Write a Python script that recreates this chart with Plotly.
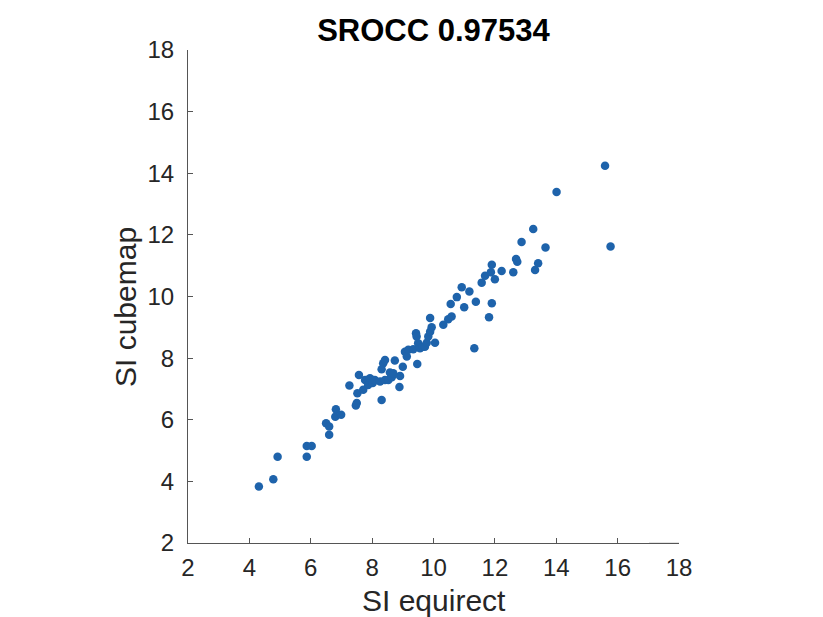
import plotly.graph_objects as go

si_equirect = [4.31, 4.78, 4.92, 5.87, 5.87, 6.03, 6.50, 6.60, 6.60, 6.80, 6.82, 6.99,
               7.26, 7.47, 7.50, 7.52, 7.57, 7.71, 7.77, 7.87, 7.93, 8.02, 8.09, 8.26,
               8.31, 8.36, 8.42, 8.31, 8.42, 8.53, 8.58, 8.64, 8.69, 8.74, 8.89, 8.91,
               9.00, 9.07, 9.13, 9.18, 9.34, 9.43, 9.45, 9.47, 9.50, 9.56, 9.65, 9.72,
               9.78, 9.83, 9.89, 9.94, 10.05, 9.89, 10.32, 10.48, 10.59, 10.56, 10.76,
               10.92, 11.00, 11.17, 11.33, 11.38, 11.57, 11.68, 11.81, 11.90, 11.90,
               11.87, 12.00, 12.22, 12.60, 12.69, 12.73, 12.87, 13.25, 13.31, 13.41,
               13.65, 14.01, 15.59, 15.77]
si_cubemap = [3.83, 4.07, 4.80, 4.80, 5.15, 5.15, 5.89, 5.78, 5.51, 6.10, 6.34, 6.16,
              7.11, 6.46, 6.54, 6.86, 7.45, 6.97, 7.29, 7.13, 7.35, 7.19, 7.29, 7.24,
              6.64, 7.83, 7.94, 7.64, 7.29, 7.29, 7.53, 7.38, 7.51, 7.92, 7.06, 7.42,
              7.72, 8.21, 8.05, 8.27, 8.29, 8.81, 8.70, 7.81, 8.48, 8.32, 8.37, 8.37,
              8.50, 8.70, 8.86, 9.00, 8.50, 9.30, 9.08, 9.26, 9.35, 9.76, 9.98,
              10.30, 9.65, 10.16, 8.32, 9.83, 10.45, 10.67, 9.33, 9.78, 11.03,
              10.79, 10.56, 10.83, 10.79, 11.22, 11.13, 11.77, 12.19, 10.86, 11.08,
              11.59, 13.39, 14.24, 11.62]

tick_vals = [2, 4, 6, 8, 10, 12, 14, 16, 18]
tick_text = [str(v) for v in tick_vals]
title_text = "SROCC 0.97534"
x_label = "SI equirect"
y_label = "SI cubemap"

W, H = 823, 617
L, R, T, B = 188, 144, 50, 74
plot_h = H - T - B
plot_w = W - L - R
FONT = "Liberation Sans, Arial, sans-serif"

fig = go.Figure()
fig.add_trace(go.Scatter(
    x=si_equirect, y=si_cubemap, mode="markers",
    marker=dict(size=8.5, color="#1e63ab", line=dict(width=0)),
    showlegend=False, hoverinfo="x+y"))

axis_common = dict(
    range=[2, 18], tickmode="array", tickvals=tick_vals, ticktext=tick_text,
    showgrid=False, zeroline=False, showline=True, linecolor="#555555", linewidth=1,
    ticks="inside", ticklen=5, tickcolor="#555555", tickwidth=1,
    tickfont=dict(family=FONT, size=24, color="#262626"),
    mirror=False,
)

fig.update_layout(
    width=W, height=H,
    margin=dict(l=L, r=R, t=T, b=B, pad=0),
    paper_bgcolor="white", plot_bgcolor="white",
    xaxis=dict(**axis_common, ticklabelstandoff=3),
    yaxis=dict(**axis_common, ticklabelstandoff=8),
    title=dict(text="<b>" + title_text + "</b>", x=(L + (W - R)) / 2 / W, xanchor="center",
               y=1 - 30 / H, yanchor="middle",
               font=dict(family=FONT, size=31, color="#000000")),
    annotations=[
        dict(text=x_label, xref="paper", yref="paper", x=0.5, y=-(600 - (H - B)) / plot_h,
             xanchor="center", yanchor="middle", showarrow=False,
             font=dict(family=FONT, size=30, color="#262626")),
        dict(text=y_label, xref="paper", yref="paper", x=-(L - 125) / plot_w,
             y=((H - B) - 307) / plot_h,
             xanchor="center", yanchor="middle", showarrow=False, textangle=-90,
             font=dict(family=FONT, size=30, color="#262626")),
    ],
    shapes=[
        dict(type="line", xref="x", yref="y", x0=17.02, x1=18, y0=1.97, y1=1.97,
             line=dict(color="#aaaaaa", width=2.5)),
    ],
)

fig.write_html("out.html")
